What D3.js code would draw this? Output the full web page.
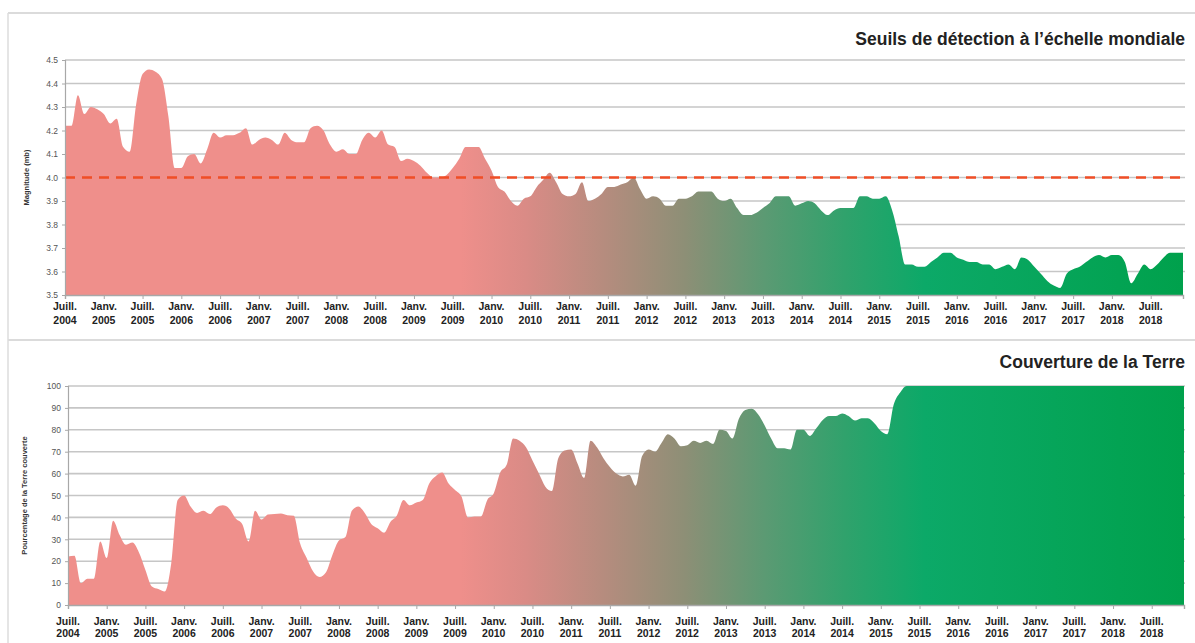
<!DOCTYPE html>
<html><head><meta charset="utf-8">
<script src="https://cdn.jsdelivr.net/npm/d3@7"></script>
<style>
body{margin:0;background:#fff;}
svg{display:block;font-family:"Liberation Sans",Arial,sans-serif;}
</style></head><body>
<svg id="c" width="1195" height="643"></svg>
<script>
// Monthly values, Juillet 2004 (index 0) to Décembre 2018 (index 173)
const magnitude = [
4.22,4.22,4.35,4.27,4.30,4.29,4.27,4.23,4.25,4.13,
4.11,4.31,4.44,4.46,4.45,4.42,4.26,4.04,4.04,4.09,
4.10,4.06,4.12,4.19,4.17,4.18,4.18,4.19,4.21,4.14,
4.16,4.17,4.16,4.14,4.19,4.16,4.15,4.15,4.21,4.22,
4.20,4.14,4.11,4.12,4.10,4.10,4.16,4.19,4.17,4.20,
4.14,4.13,4.07,4.08,4.07,4.05,4.02,4.00,4.00,4.01,
4.04,4.08,4.13,4.13,4.13,4.08,4.03,3.96,3.94,3.90,
3.88,3.91,3.92,3.96,3.99,4.02,3.98,3.93,3.92,3.93,
3.98,3.90,3.91,3.93,3.96,3.96,3.97,3.98,4.00,3.95,
3.91,3.92,3.91,3.88,3.88,3.91,3.91,3.92,3.94,3.94,
3.94,3.91,3.90,3.91,3.87,3.84,3.84,3.85,3.87,3.89,
3.92,3.92,3.92,3.88,3.89,3.90,3.89,3.86,3.84,3.86,
3.87,3.87,3.87,3.92,3.92,3.91,3.91,3.92,3.86,3.75,
3.63,3.63,3.62,3.62,3.64,3.66,3.68,3.68,3.66,3.65,
3.64,3.64,3.63,3.63,3.61,3.62,3.63,3.61,3.66,3.65,
3.62,3.59,3.56,3.54,3.53,3.59,3.61,3.62,3.64,3.66,
3.67,3.66,3.67,3.67,3.64,3.55,3.59,3.63,3.61,3.63,
3.66,3.68,3.68,3.68];

const coverage = [
22.2,22.5,10,12,12,29,21.5,38.5,32,27.5,
28.5,24,16,8.5,7.3,6.2,19,48,50,45,
42,43,41.5,44.5,45.5,44,39.5,37,29,43,
39,41.3,41.6,41.8,41,40.7,28,21.5,15.3,12.8,
15,23,29.5,31,43,45,42,37,35,33,
38,41,48,45.5,46.8,48,55.5,58.8,60.5,55.5,
52.5,49.5,40,40.4,40.4,48,51,60.5,64,76,
75,72,66,60,54,52,67,70.5,71,64.5,
58,75,72,67,63,60,58.7,59.5,54.5,68,
71,70,74,78,76,72.5,73,75,74,75,
73.5,80,79.5,76,85,89,89.6,87,82,76,
71.6,71.6,71,80,80,77.2,80.7,84.5,86.3,86.3,
87.5,86.3,84.2,85.3,85.3,83,79.5,78,91.5,97,
100,100,100,100,100,100,100,100,100,100,
100,100,100,100,100,100,100,100,100,100,
100,100,100,100,100,100,100,100,100,100,
100,100,100,100,100,100,100,100,100,100,
100,100,100,100];

const tickMonths = [0,6,12,18,24,30,36,42,48,54,60,66,72,78,84,90,96,102,108,114,120,126,132,138,144,150,156,162,168];
const tickLabels = [
["Juill.","2004"],["Janv.","2005"],["Juill.","2005"],["Janv.","2006"],["Juill.","2006"],
["Janv.","2007"],["Juill.","2007"],["Janv.","2008"],["Juill.","2008"],["Janv.","2009"],
["Juill.","2009"],["Janv.","2010"],["Juill.","2010"],["Janv.","2011"],["Juill.","2011"],
["Janv.","2012"],["Juill.","2012"],["Janv.","2013"],["Juill.","2013"],["Janv.","2014"],
["Juill.","2014"],["Janv.","2015"],["Juill.","2015"],["Janv.","2016"],["Juill.","2016"],
["Janv.","2017"],["Juill.","2017"],["Janv.","2018"],["Juill.","2018"]];
const magTicks = [3.5,3.6,3.7,3.8,3.9,4.0,4.1,4.2,4.3,4.4,4.5];
const covTicks = [0,10,20,30,40,50,60,70,80,90,100];
const threshold = 4.0;
const titles = ["Seuils de détection à l’échelle mondiale","Couverture de la Terre"];
const yTitles = ["Magnitude (mb)","Pourcentage de la Terre couverte"];

const svg = d3.select("#c");
const gridColor = "#c6c6c6";

// gradient
const defs = svg.append("defs");
const grad = defs.append("linearGradient").attr("id","g1")
  .attr("gradientUnits","userSpaceOnUse").attr("x1",65).attr("x2",1184).attr("y1",0).attr("y2",0);
[[460,"#ef8f8b"],[525,"#da8b86"],[605,"#b58c7e"],[685,"#8d8f76"],[765,"#5b9a73"],[845,"#30a26c"],[925,"#0ca968"],[1184,"#00a14c"]]
  .forEach(([x,c])=>grad.append("stop").attr("offset",((x-65)/(1184-65))).attr("stop-color",c));

// frame
svg.append("line").attr("x1",8).attr("x2",1195).attr("y1",13).attr("y2",13).attr("stroke","#cfcfcf").attr("stroke-width",1.5);
svg.append("line").attr("x1",8).attr("x2",1195).attr("y1",340).attr("y2",340).attr("stroke","#cfcfcf").attr("stroke-width",1.5);
svg.append("line").attr("x1",8).attr("x2",8).attr("y1",13).attr("y2",643).attr("stroke","#dcdcdc").attr("stroke-width",1.5);

function panel(cfg){
  const x = d3.scaleLinear().domain([0,173]).range(cfg.xr);
  const y = d3.scaleLinear().domain(cfg.yd).range(cfg.yr);
  const g = svg.append("g");
  // grid
  g.selectAll(".gl").data(cfg.yticks.slice(1)).join("line")
    .attr("x1",cfg.xr[0]).attr("x2",cfg.gridEnd).attr("y1",d=>y(d)).attr("y2",d=>y(d))
    .attr("stroke",gridColor).attr("stroke-width",1.6);
  // area
  const area = d3.area().x((d,i)=>x(i)).y0(y(cfg.yd[0])).y1(d=>y(d)).curve(d3.curveMonotoneX);
  g.append("path").datum(cfg.data).attr("d",area).attr("fill","url(#g1)");
  if(cfg.threshold!==undefined){
    g.append("line").attr("x1",cfg.xr[0]).attr("x2",cfg.gridEnd)
      .attr("y1",y(cfg.threshold)).attr("y2",y(cfg.threshold))
      .attr("stroke","#f04e26").attr("stroke-width",2.4).attr("stroke-dasharray","10,7");
  }
  // y axis
  const ya = g.append("g").attr("transform",`translate(${cfg.xr[0]},0)`)
    .call(d3.axisLeft(y).tickValues(cfg.yticks).tickSize(3).tickPadding(4).tickFormat(cfg.yfmt));
  ya.select(".domain").attr("stroke","#a8a8a8").attr("stroke-width",1.2);
  ya.selectAll(".tick line").attr("stroke","#a8a8a8");
  ya.selectAll("text").attr("fill","#555").style("font-size","8.5px").style("font-family","Liberation Sans, Arial, sans-serif");
  // x axis
  const xa = g.append("g").attr("transform",`translate(0,${y(cfg.yd[0])})`)
    .call(d3.axisBottom(x).tickValues(tickMonths).tickSize(4).tickFormat(""));
  xa.select(".domain").attr("stroke","#a8a8a8").attr("stroke-width",1.4);
  xa.selectAll(".tick line").attr("stroke","#a8a8a8");
  const lab = g.selectAll(".xl").data(tickMonths).join("text")
    .attr("text-anchor","middle").attr("fill","#222")
    .style("font-size","10.5px").style("font-weight","bold");
  lab.append("tspan").attr("x",d=>x(d)).attr("y",cfg.lab1).text((d,i)=>tickLabels[i][0]);
  lab.append("tspan").attr("x",d=>x(d)).attr("y",cfg.lab2).text((d,i)=>tickLabels[i][1]);
  // title
  g.append("text").attr("x",1185).attr("y",cfg.titleY).attr("text-anchor","end")
    .attr("fill","#222").style("font-size","17.5px").style("font-weight","bold").text(cfg.title);
  g.append("text").attr("transform",`translate(${cfg.ytX},${(cfg.yr[0]+cfg.yr[1])/2}) rotate(-90)`)
    .attr("text-anchor","middle").attr("fill","#333").style("font-size","7.5px").style("font-weight","bold").text(cfg.ytitle);
}

panel({data:magnitude, xr:[65,1183], yd:[3.5,4.5], yr:[295,60], yticks:magTicks, gridEnd:1185,
  yfmt:d3.format(".1f"), threshold:threshold, lab1:310, lab2:324, titleY:45, title:titles[0], ytitle:yTitles[0], ytX:29});
panel({data:coverage, xr:[68,1184], yd:[0,100], yr:[605,386], yticks:covTicks, gridEnd:1185,
  yfmt:d3.format("d"), lab1:625, lab2:637, titleY:368, title:titles[1], ytitle:yTitles[1], ytX:27});
</script>
</body></html>
